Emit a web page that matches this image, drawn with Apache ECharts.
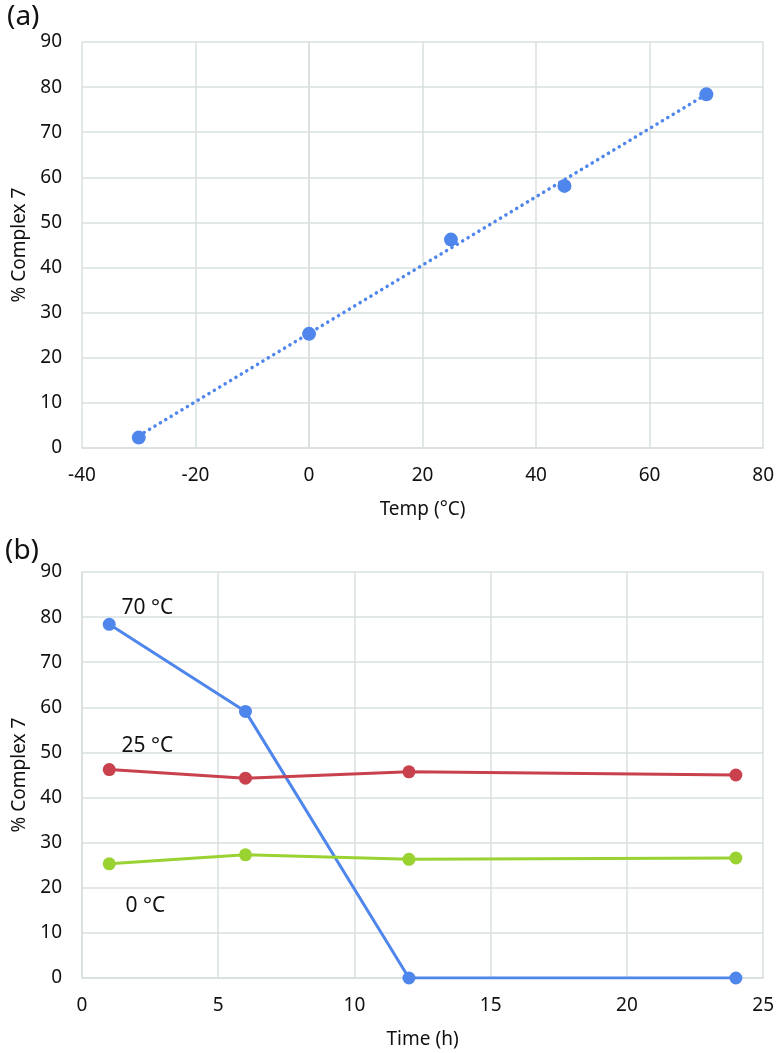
<!DOCTYPE html>
<html>
<head>
<meta charset="utf-8">
<script src="https://cdn.jsdelivr.net/npm/echarts@6/dist/echarts.min.js"></script>
<style>
html,body{margin:0;padding:0;background:#fff;}
#chart{width:777px;height:1053px;}
</style>
</head>
<body>
<div id="chart"></div>
<script>
// Panel (a): % Complex 7 vs temperature
const tempC = [-30, 0, 25, 45, 70];
const complexA = [2.3, 25.3, 46.2, 58.1, 78.4];
// Linear trendline endpoints
const trendX = [-30, 70];
const trendY = [2.7, 78.4];

// Panel (b): % Complex 7 vs time at three temperatures
const timeH = [1, 6, 12, 24];
const c70 = [78.4, 59.1, 0, 0];
const c25 = [46.2, 44.3, 45.7, 45.0];
const c0 = [25.3, 27.3, 26.3, 26.6];
const seriesNames = ['70 °C', '25 °C', '0 °C'];

const FONT = '"Noto Sans", "Open Sans", sans-serif';
const GRID_COLOR = '#d9dfdf';
const BLUE = '#4f86ec';
const RED = '#c8414d';
const GREEN = '#9ad232';
const TEXT = '#111';

const zip = (xs, ys) => xs.map((x, i) => [x, ys[i]]);

const axisCommon = {
  axisLine: { show: true, lineStyle: { color: GRID_COLOR, width: 1.5 } },
  axisTick: { show: false },
  splitLine: { show: true, lineStyle: { color: GRID_COLOR, width: 1.5 } },
  axisLabel: { color: TEXT, fontSize: 19, fontFamily: FONT },
  nameTextStyle: { color: TEXT, fontSize: 19, fontFamily: FONT }
};

const chart = echarts.init(document.getElementById('chart'), null, { renderer: 'canvas' });

const labelSeries = (name, x, y) => ({
  type: 'scatter',
  xAxisIndex: 1, yAxisIndex: 1,
  symbolSize: 0,
  silent: true,
  itemStyle: { opacity: 1 },
  data: [[x, y]],
  label: {
    show: true, position: 'right', distance: 0, opacity: 1,
    formatter: name, color: TEXT, fontSize: 21, fontFamily: FONT
  },
  z: 5
});

chart.setOption({
  animation: false,
  backgroundColor: '#fff',
  title: [
    { text: '(a)', left: 2, top: -2, textStyle: { fontSize: 28, fontWeight: 'normal', fontFamily: FONT, color: TEXT } },
    { text: '(b)', left: 0, top: 532, textStyle: { fontSize: 28, fontWeight: 'normal', fontFamily: FONT, color: TEXT } }
  ],
  grid: [
    { left: 82, right: 11, top: 42, height: 406 },
    { left: 82, right: 11, top: 572, height: 406 }
  ],
  xAxis: [
    Object.assign({}, axisCommon, {
      type: 'value', gridIndex: 0, min: -40, max: 80, interval: 20,
      name: 'Temp (°C)', nameLocation: 'middle', nameGap: 52,
      axisLabel: Object.assign({}, axisCommon.axisLabel, { margin: 18 })
    }),
    Object.assign({}, axisCommon, {
      type: 'value', gridIndex: 1, min: 0, max: 25, interval: 5,
      name: 'Time (h)', nameLocation: 'middle', nameGap: 52,
      axisLabel: Object.assign({}, axisCommon.axisLabel, { margin: 18 })
    })
  ],
  yAxis: [
    Object.assign({}, axisCommon, {
      type: 'value', gridIndex: 0, min: 0, max: 90, interval: 10,
      name: '% Complex 7', nameLocation: 'middle', nameGap: 49,
      axisLabel: Object.assign({}, axisCommon.axisLabel, { margin: 20 })
    }),
    Object.assign({}, axisCommon, {
      type: 'value', gridIndex: 1, min: 0, max: 90, interval: 10,
      name: '% Complex 7', nameLocation: 'middle', nameGap: 49,
      axisLabel: Object.assign({}, axisCommon.axisLabel, { margin: 20 })
    })
  ],
  series: [
    {
      type: 'line', xAxisIndex: 0, yAxisIndex: 0,
      data: zip(trendX, trendY), showSymbol: false, symbol: 'none',
      lineStyle: { color: BLUE, width: 3.5, type: [0.1, 6.2], cap: 'round' },
      z: 2
    },
    {
      type: 'scatter', xAxisIndex: 0, yAxisIndex: 0,
      data: zip(tempC, complexA), symbol: 'circle', symbolSize: 14,
      itemStyle: { color: BLUE, opacity: 1 }, z: 3
    },
    {
      name: seriesNames[0], type: 'line', xAxisIndex: 1, yAxisIndex: 1,
      data: zip(timeH, c70), symbol: 'circle', symbolSize: 13, showAllSymbol: true,
      lineStyle: { color: BLUE, width: 3 }, itemStyle: { color: BLUE }, z: 3
    },
    {
      name: seriesNames[1], type: 'line', xAxisIndex: 1, yAxisIndex: 1,
      data: zip(timeH, c25), symbol: 'circle', symbolSize: 13, showAllSymbol: true,
      lineStyle: { color: RED, width: 3 }, itemStyle: { color: RED }, z: 3
    },
    {
      name: seriesNames[2], type: 'line', xAxisIndex: 1, yAxisIndex: 1,
      data: zip(timeH, c0), symbol: 'circle', symbolSize: 13, showAllSymbol: true,
      lineStyle: { color: GREEN, width: 3 }, itemStyle: { color: GREEN }, z: 3
    },
    labelSeries(seriesNames[0], 1.45, 82),
    labelSeries(seriesNames[1], 1.45, 51.5),
    labelSeries(seriesNames[2], 1.6, 16)
  ]
});
</script>
</body>
</html>
